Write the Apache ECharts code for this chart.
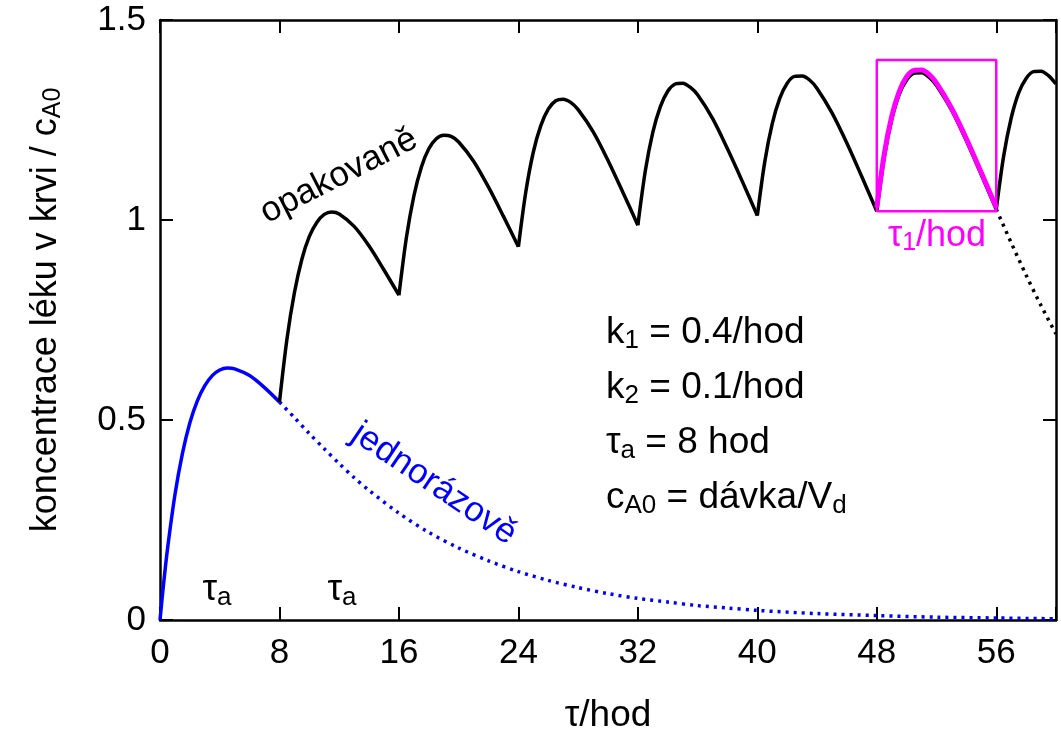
<!DOCTYPE html>
<html>
<head>
  <meta charset="utf-8">
  <title>koncentrace léku v krvi</title>
  <script src="https://cdn.jsdelivr.net/npm/echarts@6/dist/echarts.min.js"></script>
  <style>
    html, body { margin: 0; padding: 0; background: #fff; }
    #chart { width: 1061px; height: 736px; }
  </style>
</head>
<body>
<div id="chart"></div>
<script type="text/javascript">
  // jednorazova davka, 0..8 hod (plna cara)
  var singleT = [0, 0.25, 0.5, 1, 1.5, 2, 2.5, 3, 3.5, 4, 4.5, 5, 6, 7, 8];
  var singleC = [0, 0.094, 0.177, 0.313, 0.416, 0.493, 0.548, 0.586, 0.611, 0.625, 0.630, 0.628, 0.611, 0.581, 0.545];
  // pokracovani bez dalsi davky (teckovane)
  var tailT = [8, 9, 10, 11, 12, 13, 14, 16, 18, 20, 22, 24, 26, 28, 30, 32, 34, 36, 38, 40, 44, 48, 52, 56, 60];
  var tailC = [0.545, 0.506, 0.466, 0.428, 0.391, 0.356, 0.324, 0.267, 0.219, 0.180, 0.148, 0.121, 0.099, 0.081,
               0.066, 0.054, 0.045, 0.036, 0.030, 0.024, 0.016, 0.011, 0.007, 0.005, 0.003];

  // opakovane davky: cas od zacatku davky
  var doseU = [0, 0.5, 1, 1.5, 2, 2.5, 3, 3.5, 4, 5, 6, 7, 8];
  var doseStart = [8, 16, 24, 32, 40, 48, 56];
  var dose2C = [0.545, 0.702, 0.818, 0.902, 0.959, 0.994, 1.014, 1.020, 1.015, 0.984, 0.935, 0.875, 0.812];
  var dose3C = [0.812, 0.956, 1.060, 1.132, 1.178, 1.203, 1.212, 1.209, 1.195, 1.147, 1.082, 1.009, 0.933];
  var dose4C = [0.933, 1.071, 1.170, 1.236, 1.277, 1.298, 1.302, 1.294, 1.276, 1.221, 1.149, 1.069, 0.987];
  var dose5C = [0.987, 1.123, 1.219, 1.283, 1.322, 1.340, 1.342, 1.332, 1.313, 1.254, 1.178, 1.096, 1.011];
  var dose6C = [1.011, 1.146, 1.241, 1.304, 1.342, 1.359, 1.360, 1.350, 1.329, 1.268, 1.192, 1.108, 1.022];
  var dose7C = [1.022, 1.157, 1.251, 1.314, 1.350, 1.367, 1.368, 1.357, 1.336, 1.275, 1.198, 1.113, 1.027];
  var dose8C = [1.027, 1.161, 1.255, 1.318, 1.354, 1.371, 1.372, 1.361, 1.340];
  var doseC = [dose2C, dose3C, dose4C, dose5C, dose6C, dose7C, dose8C];

  // po 56 hod bez davky (tecky)
  var decayT = [56, 57, 58, 59, 60];
  var decayC = [1.027, 0.943, 0.862, 0.786, 0.715];

  // ustaleny stav, interval tau_1 (magenta)
  var steadyC = [1.031, 1.165, 1.259, 1.321, 1.358, 1.374, 1.375, 1.364, 1.342, 1.280, 1.203, 1.118, 1.031];
  var boxT = [48, 56, 56, 48, 48];
  var boxC = [1.022, 1.022, 1.4, 1.4, 1.022];

  var xTicks = [0, 8, 16, 24, 32, 40, 48, 56];
  var yTicks = [0, 0.5, 1, 1.5];

  function pairs(xs, ys) {
    var out = [];
    for (var i = 0; i < ys.length; i++) out.push([xs[i], ys[i]]);
    return out;
  }

  var FONT = 'Liberation Sans';
  var BLACK = '#000000', BLUE = '#0000ff', MAGENTA = '#ff00ff';

  var series = [];
  series.push({ type: 'line', data: pairs(singleT, singleC), smooth: 0.3, symbol: 'none',
    lineStyle: { color: BLUE, width: 3.5 } });
  series.push({ type: 'line', data: pairs(tailT, tailC), smooth: 0.3, symbol: 'none',
    lineStyle: { color: BLUE, width: 3.5, type: [3, 5], cap: 'butt' } });
  doseC.forEach(function (vals, k) {
    var ts = doseU.slice(0, vals.length).map(function (u) { return doseStart[k] + u; });
    series.push({ type: 'line', data: pairs(ts, vals), smooth: 0.3, symbol: 'none',
      lineStyle: { color: BLACK, width: 3.5 } });
  });
  series.push({ type: 'line', data: pairs(decayT, decayC), smooth: 0.3, symbol: 'none',
    lineStyle: { color: BLACK, width: 3.5, type: [3, 5], cap: 'butt' } });
  series.push({ type: 'line', data: pairs(doseU.map(function (u) { return 48 + u; }), steadyC), smooth: 0.3, symbol: 'none',
    lineStyle: { color: MAGENTA, width: 5 }, z: 5 });
  series.push({ type: 'line', data: pairs(boxT, boxC), symbol: 'none',
    lineStyle: { color: MAGENTA, width: 2.5 }, z: 4 });

  function axisX(pos, labels) {
    return {
      type: 'value', position: pos, min: 0, max: 60, interval: 8,
      axisLine: { show: true, onZero: false, lineStyle: { color: BLACK, width: 2.5 } },
      axisTick: { show: true, inside: true, length: 13, lineStyle: { color: BLACK, width: 2 } },
      axisLabel: { show: labels, color: BLACK, fontSize: 35, fontFamily: FONT, margin: 16,
        formatter: function (v) { return xTicks.indexOf(v) >= 0 ? String(v) : ''; } },
      splitLine: { show: false }
    };
  }
  function axisY(pos, labels) {
    return {
      type: 'value', position: pos, min: 0, max: 1.5, interval: 0.5,
      axisLine: { show: true, onZero: false, lineStyle: { color: BLACK, width: 2.5 } },
      axisTick: { show: true, inside: true, length: 13, lineStyle: { color: BLACK, width: 2 } },
      axisLabel: { show: labels, color: BLACK, fontSize: 35, fontFamily: FONT, margin: 14,
        formatter: function (v) { return yTicks.indexOf(v) >= 0 ? String(v) : ''; } },
      splitLine: { show: false }
    };
  }

  // text s dolnim indexem: '{n|k}{s|1}'
  function label(txt, x, y, color, size, rot, align) {
    return {
      type: 'text', x: x, y: y, rotation: (rot || 0) * Math.PI / 180, z: 10,
      style: {
        text: txt, fill: color, fontSize: size, fontFamily: FONT,
        align: align || 'center', textAlign: align || 'center',
        verticalAlign: 'middle', textVerticalAlign: 'middle',
        rich: {
          n: { fontSize: size, fontFamily: FONT, fill: color },
          s: { fontSize: Math.round(size * 0.7), fontFamily: FONT, fill: color, padding: [Math.round(size * 0.42), 0, 0, 0] }
        }
      }
    };
  }

  var chart = echarts.init(document.getElementById('chart'));
  chart.setOption({
    animation: false,
    backgroundColor: '#ffffff',
    grid: { left: 160, right: 5, top: 20, bottom: 116 },
    xAxis: [axisX('bottom', true), axisX('top', false)],
    yAxis: [axisY('left', true), axisY('right', false)],
    series: series,
    graphic: [
      label('{n|opakovaně}', 339, 176, BLACK, 35, 27),
      label('{n|jednorázově}', 434, 484, BLUE, 35, -34),
      label('{n|τ}{s|a}', 217, 590, BLACK, 37),
      label('{n|τ}{s|a}', 342, 590, BLACK, 37),
      label('{n|τ}{s|1}{n|/hod}', 937, 236, MAGENTA, 36),
      label('{n|k}{s|1}{n| = 0.4/hod}', 606, 333, BLACK, 37, 0, 'left'),
      label('{n|k}{s|2}{n| = 0.1/hod}', 606, 388, BLACK, 37, 0, 'left'),
      label('{n|τ}{s|a}{n| = 8 hod}', 606, 443, BLACK, 37, 0, 'left'),
      label('{n|c}{s|A0}{n| = dávka/V}{s|d}', 606, 498, BLACK, 37, 0, 'left'),
      label('{n|τ/hod}', 608, 716, BLACK, 37),
      label('{n|koncentrace léku v krvi / c}{s|A0}', 46, 310, BLACK, 36, 90)
    ]
  });
</script>
</body>
</html>
